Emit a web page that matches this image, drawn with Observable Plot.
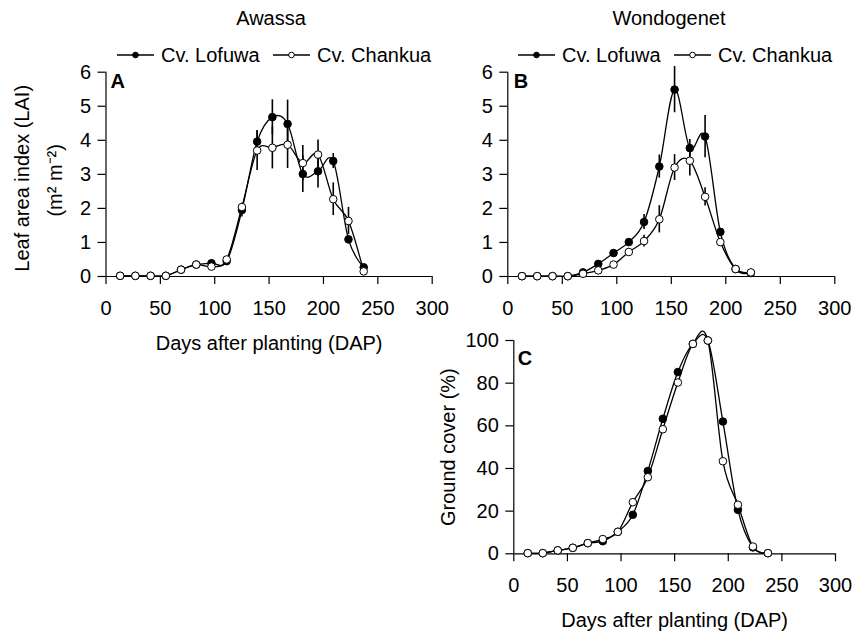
<!DOCTYPE html>
<html><head><meta charset="utf-8">
<script src="https://cdn.jsdelivr.net/npm/d3@7"></script>
<script src="https://cdn.jsdelivr.net/npm/@observablehq/plot@0.6"></script>
<style>
html,body{margin:0;padding:0;background:#fff;}
#chart{position:relative;width:855px;height:634px;background:#fff;font-family:Arial,"Liberation Sans",sans-serif;overflow:hidden;}
#chart > svg{position:absolute;}
</style></head><body><div id="chart"></div>
<script>
// ---- data ----
const days = [13,27,41,55,69,83,97,111,125,139,153,167,181,195,209,223,237];
const xTicks = [0,50,100,150,200,250,300];
const laiTicks = [0,1,2,3,4,5,6];
const coverTicks = [0,20,40,60,80,100];
const cultivars = ["Cv. Lofuwa","Cv. Chankua"];
const sites = ["Awassa","Wondogenet"];
const panelLetters = ["A","B","C"];
const xLabel = "Days after planting (DAP)";
const laiLabel = ["Leaf area index (LAI)","(m² m⁻²)"];
const coverLabel = "Ground cover (%)";

// Panel A: Awassa LAI
const awassaLofuwa    = [0.02,0.02,0.02,0.02,0.20,0.35,0.39,0.45,1.95,3.96,4.68,4.48,3.01,3.09,3.39,1.09,0.27];
const awassaLofuwaErr = [0,0,0,0,0,0,0,0,0.20,0.32,0.51,0.70,0.54,0.49,0.22,0.10,0];
const awassaChankua    = [0.02,0.02,0.02,0.02,0.20,0.35,0.29,0.50,2.04,3.70,3.78,3.87,3.33,3.58,2.27,1.63,0.15];
const awassaChankuaErr = [0,0,0,0,0,0,0,0,0.10,0.59,0.62,0.70,0.52,0.43,0.48,0.40,0];

// Panel B: Wondogenet LAI
const wondoLofuwa    = [0.01,0.01,0.01,0.01,0.12,0.37,0.69,1.01,1.60,3.23,5.49,3.77,4.11,1.31,0.22,0.10];
const wondoLofuwaErr = [0,0,0,0,0,0,0,0,0.22,0.34,0.68,0.25,0.62,0.10,0,0];
const wondoChankua    = [0.01,0.01,0.01,0.01,0.08,0.18,0.35,0.72,1.04,1.68,3.20,3.40,2.34,1.01,0.22,0.12];
const wondoChankuaErr = [0,0,0,0,0,0,0,0.05,0.17,0.40,0.38,0.45,0.27,0.05,0,0];

// Panel C: ground cover (%)
const coverLofuwa = [0.3,0.3,1.6,2.8,5.0,5.9,10.3,18.3,38.8,63.3,85.2,98.4,100,62.0,20.6,3.0,0.3];
const coverChankua = [0.3,0.3,1.6,2.8,5.0,6.9,10.3,24.2,35.9,58.4,80.3,98.4,100,43.4,23.0,3.4,0.3];

// ---- helpers ----
function rows(vals, errs, cultivar) {
  return vals.map((v, i) => ({day: days[i], v, err: errs ? errs[i] : 0, cultivar}));
}
const FONT = 'Arial, "Liberation Sans", sans-serif';

function panel(cfg) {
  const data = cfg.series.flat();
  const errData = data.filter(d => d.err > 0);
  const marks = [
    Plot.ruleY([0], {stroke: "black", strokeWidth: 1.2}),
    Plot.ruleX([0], {stroke: "black", strokeWidth: 1.2}),
    Plot.axisX({ticks: xTicks, tickFormat: d => String(d), tickSize: 8, tickPadding: 16, label: null, fontSize: 20, strokeWidth: 1.2}),
    Plot.axisY({ticks: cfg.yTicks, tickFormat: d => String(d), tickSize: 8, tickPadding: 7, label: null, fontSize: 20, strokeWidth: 1.2}),
    Plot.ruleX(errData, {x: "day", y1: d => d.v - d.err, y2: d => d.v + d.err, stroke: "black", strokeWidth: 1.6}),
    Plot.line(data, {x: "day", y: "v", z: "cultivar", curve: "cardinal", stroke: "black", strokeWidth: 1.3}),
    Plot.dot(data, {x: "day", y: "v", r: 3.8, stroke: "black", strokeWidth: 1,
      fill: d => d.cultivar === cultivars[0] ? "black" : "white"}),
    Plot.text([cfg.letter], {text: d => d, frameAnchor: "top-left", textAnchor: "start", lineAnchor: "top",
      dx: cfg.letterDx, dy: cfg.letterDy, fontWeight: "bold", fontSize: 20})
  ];
  (cfg.yTitles || []).forEach(t => marks.push(
    Plot.text([t.text], {text: d => d, frameAnchor: "left", textAnchor: "middle", lineAnchor: "middle",
      rotate: -90, dx: t.dx, dy: t.dy, fontSize: 20})));
  if (cfg.xTitle) marks.push(Plot.text([cfg.xTitle], {text: d => d, frameAnchor: "bottom", textAnchor: "middle",
    lineAnchor: "middle", dy: 67, fontSize: 20}));
  const svg = Plot.plot({
    width: cfg.width, height: cfg.height,
    marginLeft: cfg.ml, marginRight: cfg.mr, marginTop: cfg.mt, marginBottom: cfg.mb,
    style: {fontFamily: FONT, fontSize: "20px", color: "black", background: "transparent", overflow: "visible"},
    x: {domain: [0, 300]},
    y: {domain: cfg.yDomain},
    marks
  });
  svg.style.left = cfg.left + "px";
  svg.style.top = cfg.top + "px";
  return svg;
}

const chart = document.getElementById("chart");

chart.appendChild(panel({
  left: 0, top: 60, width: 440, height: 300, ml: 105.5, mr: 8.3, mt: 11.7, mb: 84,
  yDomain: [0, 6], yTicks: laiTicks, letter: panelLetters[0], letterDx: 4.5, letterDy: 1.5,
  series: [rows(awassaLofuwa, awassaLofuwaErr, cultivars[0]), rows(awassaChankua, awassaChankuaErr, cultivars[1])],
  xTitle: xLabel,
  yTitles: [{text: laiLabel[0], dx: -83, dy: 4}, {text: laiLabel[1], dx: -50.5, dy: 6}]
}));

chart.appendChild(panel({
  left: 440, top: 60, width: 415, height: 260, ml: 67.3, mr: 20.7, mt: 11.7, mb: 44,
  yDomain: [0, 6], yTicks: laiTicks, letter: panelLetters[1], letterDx: 6, letterDy: 1.5,
  series: [rows(wondoLofuwa, wondoLofuwaErr, cultivars[0]), rows(wondoChankua, wondoChankuaErr, cultivars[1])]
}));

chart.appendChild(panel({
  left: 440, top: 320, width: 415, height: 314, ml: 73.3, mr: 20, mt: 20, mb: 80.7,
  yDomain: [0, 100], yTicks: coverTicks, letter: panelLetters[2], letterDx: 4, letterDy: 10,
  series: [rows(coverLofuwa, null, cultivars[0]), rows(coverChankua, null, cultivars[1])],
  xTitle: xLabel,
  yTitles: [{text: coverLabel, dx: -65, dy: 0}]
}));

// ---- titles and legends (above panels A and B) ----
const over = d3.select(chart).append("svg")
  .attr("width", 855).attr("height", 70)
  .style("left", "0px").style("top", "0px")
  .style("font-family", FONT).style("font-size", "20px");
const heads = [{site: sites[0], cx: 271, x0: 117}, {site: sites[1], cx: 669, x0: 518}];
heads.forEach(h => {
  over.append("text").attr("x", h.cx).attr("y", 25).attr("text-anchor", "middle").attr("fill", "black").text(h.site);
  const items = [{name: cultivars[0], fill: "black", off: 0}, {name: cultivars[1], fill: "white", off: 156}];
  items.forEach(it => {
    const x = h.x0 + it.off;
    over.append("line").attr("x1", x).attr("x2", x + 37).attr("y1", 55).attr("y2", 55)
      .attr("stroke", "black").attr("stroke-width", 1.3);
    over.append("circle").attr("cx", x + 18.5).attr("cy", 55).attr("r", 2.8)
      .attr("fill", it.fill).attr("stroke", "black").attr("stroke-width", 1);
    over.append("text").attr("x", x + 44).attr("y", 62).attr("fill", "black").text(it.name);
  });
});
</script></body></html>
